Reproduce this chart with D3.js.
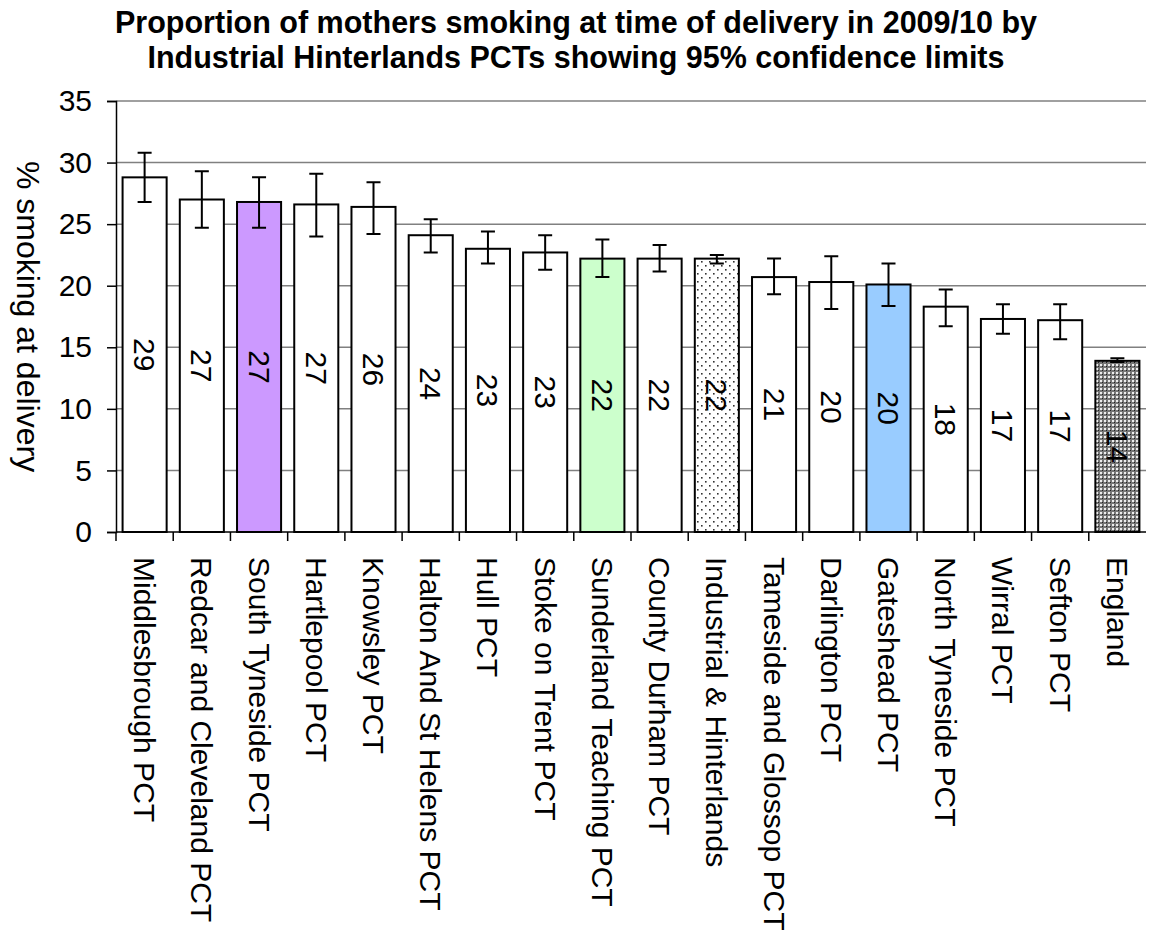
<!DOCTYPE html>
<html>
<head>
<meta charset="utf-8">
<script src="https://cdn.jsdelivr.net/npm/d3@7"></script>
<style>
  html, body { margin: 0; padding: 0; background: #fff; }
  svg { display: block; font-family: Arial, 'Liberation Sans', sans-serif; }
</style>
</head>
<body>
<div id="main"></div>
<script>
'use strict';
// - - - - - - - - - -

// data
const categories = [
  'Middlesbrough PCT', 'Redcar and Cleveland PCT', 'South Tyneside PCT', 'Hartlepool PCT',
  'Knowsley PCT', 'Halton And St Helens PCT', 'Hull PCT', 'Stoke on Trent PCT',
  'Sunderland Teaching PCT', 'County Durham PCT', 'Industrial & Hinterlands',
  'Tameside and Glossop PCT', 'Darlington PCT', 'Gateshead PCT', 'North Tyneside PCT',
  'Wirral PCT', 'Sefton PCT', 'England'
];
const values = [28.8, 27.0, 26.8, 26.6, 26.4, 24.1, 23.0, 22.7, 22.2, 22.2, 22.2, 20.7, 20.3, 20.1, 18.3, 17.3, 17.2, 13.9];
const lower = [26.8, 24.7, 24.7, 24.0, 24.2, 22.7, 21.8, 21.3, 20.7, 21.15, 21.8, 19.3, 18.1, 18.35, 16.7, 16.1, 15.65, 13.8];
const upper = [30.8, 29.3, 28.8, 29.1, 28.4, 25.4, 24.4, 24.1, 23.75, 23.3, 22.5, 22.2, 22.4, 21.8, 19.7, 18.5, 18.5, 14.1];
const labels = ['29', '27', '27', '27', '26', '24', '23', '23', '22', '22', '22', '21', '20', '20', '18', '17', '17', '14'];
const fills = ['white', 'white', '#cc99ff', 'white', 'white', 'white', 'white', 'white', '#ccffcc', 'white',
  'url(#dots)', 'white', 'white', '#99ccff', 'white', 'white', 'white', 'url(#cross)'];
const yTicks = [0, 5, 10, 15, 20, 25, 30, 35];
const titleLines = [
  'Proportion of mothers smoking at time of delivery in 2009/10 by',
  'Industrial Hinterlands PCTs showing 95% confidence limits'
];
const yLabel = '% smoking at delivery';

// declaration
let
  svg = undefined,
  canvas = {},
  xScale = undefined,
  yScale = undefined;

// configuration
canvas = {
  context: '#main',
  width: 1150,
  height: 938,
  padding: {
    top: 101,
    right: 4,
    bottom: 406,
    left: 116
  }
};

// methods
function setCanvas(domContext) {
  svg = d3.select(domContext)
    .append('svg')
    .attr('width', canvas.width)
    .attr('height', canvas.height);

  let defs = svg.append('defs');

  // light dotted fill (Industrial & Hinterlands)
  let dots = defs.append('pattern')
    .attr('id', 'dots')
    .attr('patternUnits', 'userSpaceOnUse')
    .attr('width', 8)
    .attr('height', 8);
  dots.append('rect').attr('width', 8).attr('height', 8).attr('fill', 'white');
  dots.append('rect').attr('x', 1).attr('y', 1).attr('width', 1.6).attr('height', 1.6).attr('fill', '#333');
  dots.append('rect').attr('x', 5).attr('y', 5).attr('width', 1.6).attr('height', 1.6).attr('fill', '#333');

  // dark cross-hatch fill (England)
  let cross = defs.append('pattern')
    .attr('id', 'cross')
    .attr('patternUnits', 'userSpaceOnUse')
    .attr('width', 4)
    .attr('height', 4);
  cross.append('rect').attr('width', 4).attr('height', 4).attr('fill', '#777');
  cross.append('rect').attr('x', 0).attr('y', 0).attr('width', 2).attr('height', 2).attr('fill', '#eee');
  cross.append('rect').attr('x', 2).attr('y', 2).attr('width', 1).attr('height', 1).attr('fill', '#222');
}

function setScales() {
  xScale = d3.scaleBand()
    .domain(categories)
    .range([canvas.padding.left, canvas.width - canvas.padding.right])
    .paddingInner(0.23)
    .paddingOuter(0.115);

  yScale = d3.scaleLinear()
    .domain([0, 35])
    .range([canvas.height - canvas.padding.bottom, canvas.padding.top]);
}

function drawGrid() {
  svg.append('g')
    .selectAll('line')
    .data(yTicks.filter(d => d > 0))
    .enter()
    .append('line')
    .attr('x1', canvas.padding.left)
    .attr('x2', canvas.width - canvas.padding.right)
    .attr('y1', d => yScale(d))
    .attr('y2', d => yScale(d))
    .attr('stroke', '#808080')
    .attr('stroke-width', 1.5);
}

function drawAxes() {
  let yAxis = svg.append('g')
    .attr('transform', 'translate(' + canvas.padding.left + ',0)')
    .call(d3.axisLeft(yScale).tickValues(yTicks).tickSize(9).tickPadding(15));
  yAxis.select('.domain').attr('stroke', '#000').attr('stroke-width', 1.5);
  yAxis.selectAll('.tick line').attr('stroke', '#000').attr('stroke-width', 1.5);
  yAxis.selectAll('.tick text')
    .attr('font-size', 30)
    .attr('font-family', 'Arial, Liberation Sans, sans-serif')
    .attr('fill', '#000');

  // x axis line and tick marks between categories
  let base = yScale(0),
    step = xScale.step(),
    edge = (step - xScale.bandwidth()) / 2,
    xAxis = svg.append('g');

  xAxis.append('line')
    .attr('x1', canvas.padding.left)
    .attr('x2', canvas.width - canvas.padding.right)
    .attr('y1', base)
    .attr('y2', base)
    .attr('stroke', '#000')
    .attr('stroke-width', 1.5);

  xAxis.selectAll('.xtick')
    .data(categories)
    .enter()
    .append('line')
    .attr('x1', d => xScale(d) - edge)
    .attr('x2', d => xScale(d) - edge)
    .attr('y1', base)
    .attr('y2', base + 9)
    .attr('stroke', '#000')
    .attr('stroke-width', 1.5);

  xAxis.selectAll('.xlabel')
    .data(categories)
    .enter()
    .append('text')
    .attr('transform', d => 'translate(' + (xScale(d) + xScale.bandwidth() / 2) + ',' + (base + 25) + ') rotate(90)')
    .attr('dominant-baseline', 'central')
    .attr('font-size', 30)
    .text(d => d);
}

function drawBars() {
  let bars = svg.append('g')
    .selectAll('g')
    .data(categories)
    .enter()
    .append('g');

  bars.append('rect')
    .attr('x', d => xScale(d))
    .attr('y', (d, i) => yScale(values[i]))
    .attr('width', xScale.bandwidth())
    .attr('height', (d, i) => yScale(0) - yScale(values[i]))
    .attr('fill', (d, i) => fills[i])
    .attr('stroke', '#000')
    .attr('stroke-width', 2);

  // value labels, rotated, centred in the bar
  bars.append('text')
    .attr('transform', (d, i) => 'translate(' + (xScale(d) + xScale.bandwidth() / 2) + ',' +
      ((yScale(values[i]) + yScale(0)) / 2) + ') rotate(90)')
    .attr('text-anchor', 'middle')
    .attr('dominant-baseline', 'central')
    .attr('font-size', 30)
    .text((d, i) => labels[i]);

  // 95% confidence limits
  let cap = 7;
  bars.append('path')
    .attr('d', (d, i) => {
      let cx = xScale(d) + xScale.bandwidth() / 2,
        y1 = yScale(upper[i]),
        y2 = yScale(lower[i]);
      return 'M' + cx + ',' + y1 + 'V' + y2 +
        'M' + (cx - cap) + ',' + y1 + 'H' + (cx + cap) +
        'M' + (cx - cap) + ',' + y2 + 'H' + (cx + cap);
    })
    .attr('fill', 'none')
    .attr('stroke', '#000')
    .attr('stroke-width', 2);
}

function drawTitles() {
  svg.append('g')
    .selectAll('text')
    .data(titleLines)
    .enter()
    .append('text')
    .attr('x', 576)
    .attr('y', (d, i) => 33 + i * 35)
    .attr('text-anchor', 'middle')
    .attr('font-size', 30.5)
    .attr('font-weight', 'bold')
    .text(d => d);

  svg.append('text')
    .attr('transform', 'translate(28,' + ((yScale(0) + yScale(35)) / 2) + ') rotate(90)')
    .attr('text-anchor', 'middle')
    .attr('dominant-baseline', 'central')
    .attr('font-size', 32)
    .text(yLabel);
}

// control
setCanvas(canvas.context);
setScales();
drawGrid();
drawBars();
drawAxes();
drawTitles();

// - - - - - - - - - -
</script>
</body>
</html>
